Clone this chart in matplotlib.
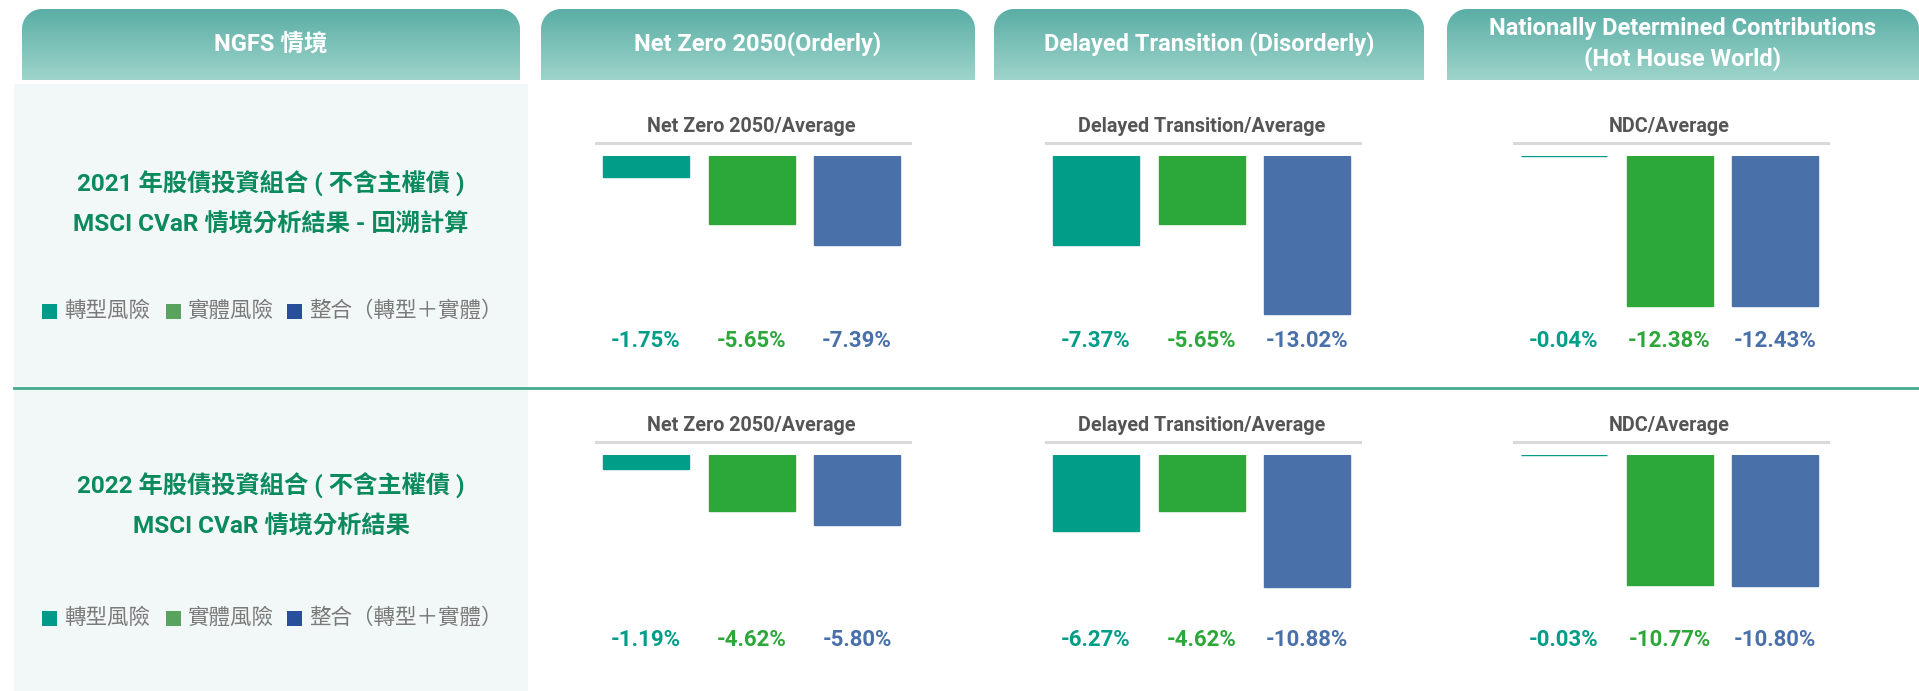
import numpy as np
import matplotlib
matplotlib.use("Agg")
import matplotlib.pyplot as plt
from matplotlib.path import Path
from matplotlib.patches import PathPatch, Rectangle
from matplotlib.colors import to_rgb

plt.rcParams['font.family'] = ['Roboto', 'Noto Sans CJK TC', 'DejaVu Sans']

# --- data ---
headers = ['NGFS 情境', 'Net Zero 2050(Orderly)', 'Delayed Transition (Disorderly)',
           'Nationally Determined Contributions\n(Hot House World)']
subtitles = ['Net Zero 2050/Average', 'Delayed Transition/Average', 'NDC/Average']
risk_types = ['轉型風險', '實體風險', '整合（轉型＋實體）']
row_titles = ['2021 年股債投資組合 ( 不含主權債 )\nMSCI CVaR 情境分析結果 - 回溯計算',
              '2022 年股債投資組合 ( 不含主權債 )\nMSCI CVaR 情境分析結果']
# CVaR (%) per scenario: [transition, physical, combined]
cvar_2021 = [[-1.75, -5.65, -7.39], [-7.37, -5.65, -13.02], [-0.04, -12.38, -12.43]]
cvar_2022 = [[-1.19, -4.62, -5.80], [-6.27, -4.62, -10.88], [-0.03, -10.77, -10.80]]
rows = [cvar_2021, cvar_2022]

# --- style ---
bar_colors = ['#009e88', '#2ca73a', '#4a70aa']
legend_colors = ['#009a8a', '#5aa35e', '#284f9c']
title_green = '#0b8a5e'
W, H = 1919, 691

fig = plt.figure(figsize=(W / 100, H / 100), dpi=100)
bg = fig.add_axes([0, 0, 1, 1], zorder=0)
bg.axis('off')

# left panel background
bg.add_patch(Rectangle((14, 84), 514, H - 84, color='#f2f8f7', lw=0))


def top_rounded(x0, x1, y0, y1, r=20):
    t = np.linspace(0, np.pi / 2, 20)
    pts = [(x0, y1)]
    pts += list(zip(x0 + r - r * np.cos(t), y0 + r - r * np.sin(t)))
    pts += list(zip(x1 - r + r * np.sin(t), y0 + r - r * np.cos(t)))
    pts += [(x1, y1), (x0, y1)]
    return Path(pts, closed=True)


# header boxes with vertical gradient
box_x = [(22, 520), (541, 975), (994, 1424), (1447, 1919)]
top_c, bot_c = np.array(to_rgb('#5aaea5')), np.array(to_rgb('#9ed4cb'))
grad = np.linspace(0, 1, 100)[:, None, None] * (bot_c - top_c) + top_c
for (x0, x1), txt in zip(box_x, headers):
    patch = PathPatch(top_rounded(x0, x1, 9, 80), facecolor='none', edgecolor='none')
    bg.add_patch(patch)
    im = bg.imshow(grad, extent=(x0, x1, 80, 9), aspect='auto', origin='upper')
    im.set_clip_path(patch)
    lines = txt.split('\n')
    ys = [44] if len(lines) == 1 else [28, 59]
    for ln, y in zip(lines, ys):
        bg.text((x0 + x1) / 2, y, ln, color='white', fontsize=17, fontweight='bold',
                ha='center', va='center')

# divider between years
bg.plot([14, W], [388, 388], color='#45a98e', lw=2)

# left side titles and legends
title_y = [(183, 225), (485, 527)]
legend_y = [311, 618]
legend_x = [42, 166, 287]
for r in range(2):
    for ln, y in zip(row_titles[r].split('\n'), title_y[r]):
        bg.text(271, y, ln, color=title_green, fontsize=17.5, fontweight='bold',
                ha='center', va='center')
    for lx, lab, col in zip(legend_x, risk_types, legend_colors):
        bg.add_patch(Rectangle((lx, legend_y[r] - 7.5), 15, 15, color=col, lw=0))
        bg.text(lx + 22, legend_y[r], lab, color='#7a7a7a', fontsize=15.5,
                ha='left', va='center')

bg.set_xlim(0, W)
bg.set_ylim(H, 0)

# bar charts
col_x0 = [646, 1096, 1564]   # centre of first bar (px)
row_top = [156, 455]         # zero line (px)
step, bw, px_per = 105.5, 86, 12.1
for r in range(2):
    for c in range(3):
        left = col_x0[c] - 0.6 * step
        ax_h = 16 * px_per
        ax = fig.add_axes([left / W, 1 - (row_top[r] + ax_h) / H, 3.2 * step / W, ax_h / H],
                          zorder=2)
        ax.axis('off')
        vals = rows[r][c]
        ax.bar(range(3), vals, width=bw / step, color=bar_colors,
               edgecolor=bar_colors, linewidth=1)
        ax.set_xlim(-0.6, 2.6)
        ax.set_ylim(-16, 0)
        ax.plot([-0.47, 2.5], [1.1, 1.1], color='#d9d9d9', lw=2.2, clip_on=False)
        ax.text(1.0, 2.45, subtitles[c], color='#555555', fontsize=14.2, fontweight='bold',
                ha='center', va='center', clip_on=False)
        for i, v in enumerate(vals):
            ax.text(i, -15.3, f'{v:.2f}%', color=bar_colors[i], fontsize=16,
                    fontweight='bold', ha='center', va='center', clip_on=False)

fig.savefig('out.png', dpi=100)
